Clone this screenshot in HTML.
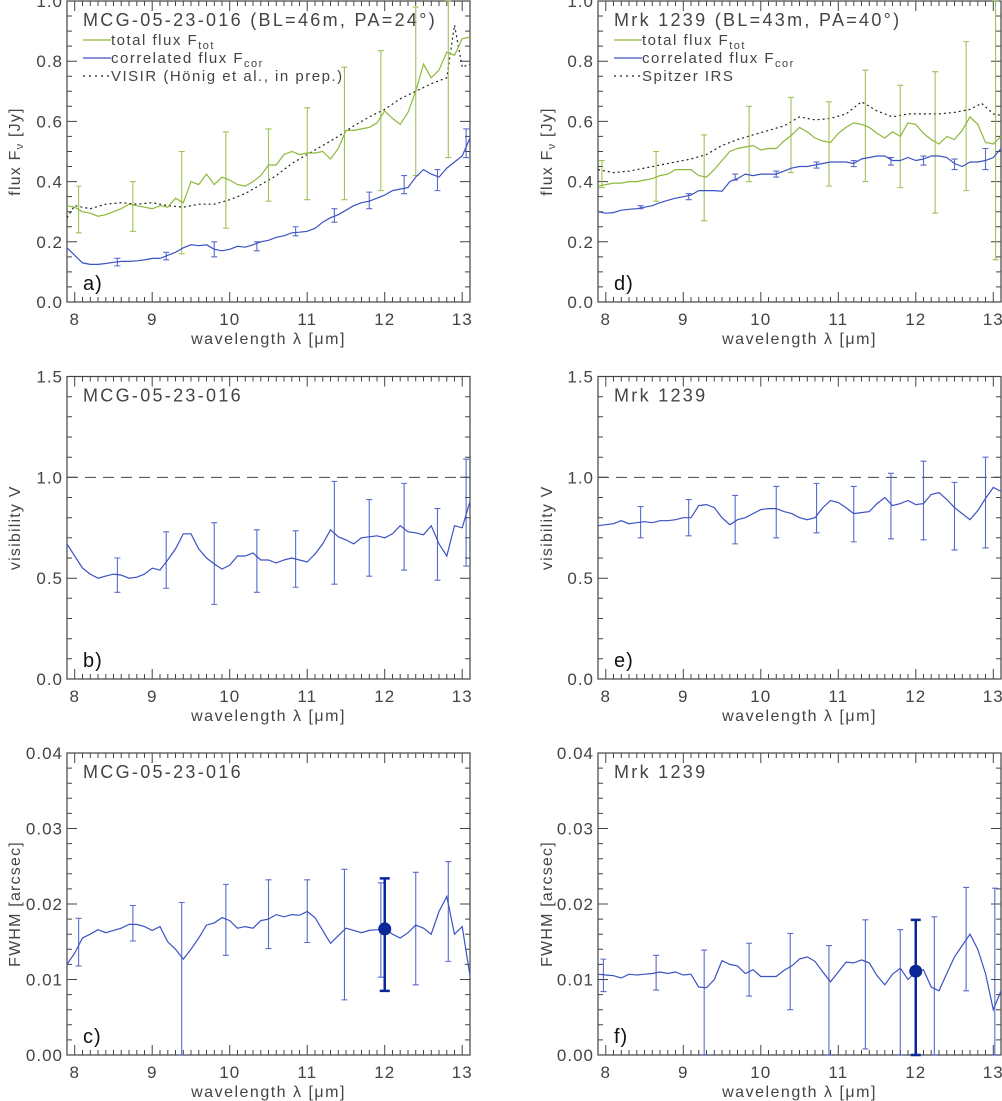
<!DOCTYPE html>
<html><head><meta charset="utf-8"><style>
body{margin:0;background:#fff;}
svg{display:block;font-family:"Liberation Sans",sans-serif;}
</style></head><body>
<svg id="fig" width="1002" height="1101" viewBox="0 0 1002 1101" xmlns="http://www.w3.org/2000/svg"></svg>
<script>
// ---- data (wavelength grid 7.9..13.1, step 0.1) ----
const wave = []; for (let i = 0; i < 53; i++) wave.push(+(7.9 + 0.1 * i).toFixed(2));

const aTot = [0.32,0.315,0.30,0.295,0.285,0.29,0.30,0.31,0.325,0.32,0.315,0.31,0.32,0.315,0.345,0.33,0.40,0.39,0.425,0.39,0.415,0.405,0.39,0.385,0.40,0.42,0.455,0.455,0.49,0.50,0.49,0.495,0.495,0.50,0.475,0.51,0.57,0.57,0.575,0.58,0.595,0.635,0.61,0.59,0.63,0.70,0.79,0.745,0.77,0.83,0.82,0.875,0.88];
const aCor = [0.18,0.155,0.13,0.125,0.125,0.128,0.132,0.135,0.135,0.137,0.14,0.145,0.145,0.155,0.165,0.18,0.19,0.187,0.19,0.175,0.17,0.175,0.185,0.182,0.19,0.20,0.205,0.215,0.22,0.23,0.232,0.235,0.245,0.265,0.28,0.29,0.305,0.32,0.33,0.335,0.345,0.355,0.37,0.375,0.38,0.415,0.44,0.425,0.415,0.445,0.465,0.485,0.545];
const aRefX = [7.9,8.0,8.2,8.4,8.6,8.8,9.0,9.2,9.4,9.6,9.8,10.0,10.2,10.4,10.6,10.8,11.0,11.2,11.4,11.6,11.8,12.0,12.2,12.4,12.6,12.8,12.9,13.0,13.1];
const aRef = [0.28,0.32,0.31,0.325,0.33,0.325,0.33,0.32,0.315,0.325,0.325,0.34,0.36,0.39,0.42,0.46,0.49,0.52,0.55,0.585,0.615,0.64,0.675,0.70,0.725,0.745,0.92,0.78,0.79];
const aTotErrX = [8.05,8.75,9.38,9.95,10.5,11.0,11.48,11.95,12.4,12.82];
const aTotLo = [0.23,0.235,0.16,0.245,0.335,0.34,0.34,0.37,0.42,0.48];
const aTotHi = [0.385,0.40,0.50,0.565,0.575,0.645,0.78,0.835,0.98,1.0];
const aCorErrX = [8.55,9.18,9.8,10.35,10.85,11.35,11.8,12.25,12.68,13.05];
const aCorLo = [0.12,0.14,0.15,0.17,0.22,0.265,0.31,0.36,0.37,0.48];
const aCorHi = [0.145,0.165,0.2,0.2,0.25,0.31,0.365,0.42,0.44,0.575];

const bVis = [0.67,0.61,0.55,0.52,0.50,0.51,0.52,0.515,0.50,0.505,0.52,0.55,0.54,0.59,0.645,0.72,0.72,0.645,0.60,0.57,0.545,0.565,0.61,0.61,0.625,0.59,0.59,0.575,0.59,0.60,0.59,0.58,0.62,0.67,0.74,0.705,0.69,0.67,0.70,0.705,0.71,0.70,0.72,0.76,0.73,0.725,0.715,0.76,0.67,0.61,0.76,0.75,0.88];
const bErrX = [8.55,9.18,9.8,10.35,10.85,11.35,11.8,12.25,12.68,13.05];
const bLo = [0.43,0.45,0.37,0.43,0.455,0.47,0.51,0.54,0.49,0.56];
const bHi = [0.60,0.73,0.775,0.74,0.735,0.98,0.89,0.97,0.845,1.09];

const cFwhm = [0.0120,0.0135,0.0155,0.0160,0.0166,0.0162,0.0165,0.0168,0.0173,0.0173,0.0170,0.0165,0.0170,0.0150,0.0140,0.0127,0.0140,0.0155,0.0172,0.0175,0.0182,0.0178,0.0168,0.0170,0.0168,0.0178,0.0180,0.0186,0.0183,0.0186,0.0185,0.0190,0.0182,0.0165,0.0148,0.0158,0.0168,0.0165,0.0162,0.0165,0.0166,0.0168,0.0160,0.0155,0.0162,0.0172,0.0168,0.0160,0.0190,0.0210,0.0160,0.0170,0.0105];
const cErrX = [8.05,8.75,9.38,9.95,10.5,11.0,11.48,11.95,12.4,12.82];
const cLo = [0.0118,0.0151,0.0,0.0132,0.0141,0.0149,0.0073,0.0103,0.0093,0.0124];
const cHi = [0.0181,0.0198,0.0202,0.0226,0.0232,0.0232,0.0246,0.0228,0.0242,0.0256];
const cBig = [12.0, 0.0167, 0.0085, 0.0234];

const dTot = [0.385,0.39,0.395,0.395,0.40,0.40,0.405,0.41,0.42,0.425,0.44,0.44,0.44,0.42,0.415,0.44,0.47,0.50,0.51,0.515,0.52,0.505,0.51,0.51,0.535,0.555,0.58,0.565,0.545,0.535,0.53,0.56,0.58,0.595,0.59,0.58,0.56,0.545,0.565,0.55,0.595,0.59,0.56,0.54,0.525,0.55,0.54,0.57,0.615,0.59,0.53,0.525,0.55];
const dCor = [0.30,0.295,0.297,0.305,0.308,0.31,0.315,0.32,0.33,0.338,0.345,0.35,0.355,0.37,0.37,0.37,0.368,0.40,0.41,0.425,0.42,0.425,0.425,0.425,0.435,0.445,0.45,0.45,0.455,0.46,0.465,0.465,0.465,0.46,0.475,0.48,0.485,0.485,0.47,0.47,0.48,0.47,0.475,0.485,0.485,0.48,0.46,0.45,0.465,0.465,0.47,0.48,0.51];
const dRefX = [7.9,8.1,8.3,8.5,8.7,8.9,9.1,9.3,9.5,9.7,9.9,10.1,10.3,10.5,10.7,10.9,11.1,11.3,11.5,11.7,11.9,12.1,12.3,12.5,12.7,12.85,13.0,13.1];
const dRef = [0.44,0.43,0.435,0.445,0.455,0.465,0.475,0.49,0.52,0.54,0.555,0.57,0.585,0.615,0.605,0.61,0.625,0.665,0.635,0.615,0.625,0.625,0.625,0.63,0.64,0.66,0.625,0.62];
const dTotErrX = [7.95,8.65,9.27,9.85,10.39,10.88,11.35,11.8,12.25,12.65,13.03];
const dTotLo = [0.38,0.335,0.27,0.40,0.43,0.385,0.40,0.38,0.295,0.37,0.14];
const dTotHi = [0.47,0.50,0.555,0.65,0.68,0.665,0.77,0.72,0.765,0.865,1.0];
const dCorErrX = [8.45,9.07,9.67,10.2,10.72,11.2,11.68,12.1,12.5,12.9];
const dCorLo = [0.31,0.34,0.405,0.415,0.445,0.45,0.455,0.455,0.44,0.44];
const dCorHi = [0.32,0.36,0.425,0.435,0.465,0.47,0.48,0.485,0.475,0.51];

const eVis = [0.76,0.765,0.77,0.785,0.77,0.775,0.78,0.775,0.785,0.785,0.79,0.80,0.80,0.86,0.865,0.85,0.80,0.765,0.79,0.80,0.82,0.84,0.845,0.845,0.83,0.82,0.80,0.79,0.80,0.85,0.885,0.875,0.85,0.82,0.825,0.83,0.87,0.90,0.86,0.87,0.885,0.865,0.87,0.915,0.925,0.89,0.85,0.82,0.79,0.835,0.895,0.95,0.93];
const eErrX = [8.45,9.07,9.67,10.2,10.72,11.2,11.68,12.1,12.5,12.9];
const eLo = [0.70,0.71,0.67,0.70,0.725,0.68,0.695,0.69,0.64,0.65];
const eHi = [0.855,0.89,0.91,0.955,0.97,0.955,1.02,1.08,0.975,1.10];

const fFwhm = [0.0107,0.0106,0.0105,0.0102,0.0107,0.0106,0.0107,0.0108,0.0110,0.0108,0.0110,0.0106,0.0107,0.0090,0.0089,0.0100,0.0125,0.0120,0.0118,0.0108,0.0113,0.0104,0.0104,0.0104,0.0112,0.0118,0.0127,0.0130,0.0124,0.0110,0.0097,0.0110,0.0123,0.0122,0.0126,0.0122,0.0105,0.0093,0.0107,0.0115,0.0100,0.0110,0.0113,0.0090,0.0085,0.0108,0.0130,0.0145,0.0160,0.0140,0.0108,0.0060,0.0085];
const fErrX = [7.97,8.65,9.27,9.85,10.38,10.88,11.35,11.8,12.24,12.65,13.02];
const fLo = [0.0084,0.0086,0,0.0078,0.006,0,0.0008,0,0,0.0085,0];
const fHi = [0.0127,0.0132,0.0139,0.0148,0.0161,0.0145,0.0179,0.0166,0.0183,0.0222,0.0221];
const fBig = [12.0, 0.0111, 0.0, 0.0179];

const xTicks = ["8","9","10","11","12","13"];
const yTicksFlux = ["0.0","0.2","0.4","0.6","0.8","1.0"];
const yTicksVis = ["0.0","0.5","1.0","1.5"];
const yTicksFwhm = ["0.00","0.01","0.02","0.03","0.04"];

// ---- drawing ----
const NS = "http://www.w3.org/2000/svg";
const svg = document.getElementById("fig");
const GREEN = "#8db83c", BLUE = "#3c52c2", DARK = "#0a2797", AX = "#444";
function mk(tag, attrs, parent) {
  const e = document.createElementNS(NS, tag);
  for (const k in attrs) e.setAttribute(k, attrs[k]);
  (parent || svg).appendChild(e);
  return e;
}
function panel(opt) {
  const g = mk("g", {});
  
  
  const x0 = opt.x0, x1 = opt.x0 + 403, y0 = opt.y0, y1 = opt.y1;
  const X = v => x0 + (v - 7.9) / 5.2 * (x1 - x0);
  const Y = v => y1 - (v - opt.ymin) / (opt.ymax - opt.ymin) * (y1 - y0);
  // ticks
  const tk = mk("path", {stroke: AX, "stroke-width": 1, fill: "none"}, g);
  let d = "";
  for (let i = 0; i <= 52; i++) {
    const v = 7.9 + i * 0.1, px = X(v).toFixed(1);
    const major = Math.abs(v - Math.round(v)) < 1e-6;
    const L = major ? 10 : 5;
    d += `M${px},${y1}v${-L}M${px},${y0}v${L}`;
  }
  const nMinor = Math.round((opt.ymax - opt.ymin) / opt.ystepMinor);
  for (let i = 0; i <= nMinor; i++) {
    const v = opt.ymin + i * opt.ystepMinor, py = Y(v).toFixed(1);
    const r = v / opt.ystepMajor;
    const major = Math.abs(r - Math.round(r)) < 1e-6;
    const L = major ? 10 : 5;
    d += `M${x0},${py}h${L}M${x1},${py}h${-L}`;
  }
  tk.setAttribute("d", d);
  
  
  const fr = mk("rect", {x: x0, y: y0, width: x1 - x0, height: y1 - y0, fill: "none", stroke: AX, "stroke-width": 1.2}, g);
  
  
  // tick labels
  xTicks.forEach(t => {
    const e = mk("text", {x: X(+t), y: y1 + 23, "text-anchor": "middle", "font-size": 17, fill: AX, "letter-spacing": 1}, g);
    e.textContent = t;
    
    
  });
  opt.yt.forEach(t => {
    const e = mk("text", {x: x0 - 4, y: Y(+t) + 6, "text-anchor": "end", "font-size": 17, fill: AX, "letter-spacing": 1}, g);
    e.textContent = t;
    
    
  });
  const xt = mk("text", {x: (x0 + x1) / 2, y: y1 + 42, "text-anchor": "middle", "font-size": 16, fill: AX, "letter-spacing": 1.5}, g);
  xt.textContent = "wavelength λ [μm]";
  
  
  const yx = opt.ytx, yy = (y0 + y1) / 2;
  const yt = mk("text", {x: yx, y: yy, "text-anchor": "middle", "font-size": 16, fill: AX, "letter-spacing": 1.2, transform: `rotate(-90 ${yx} ${yy})`}, g);
  yt.innerHTML = opt.ytitle;
  
  
  // title & panel label
  const ti = mk("text", {x: x0 + 16, y: y0 + 25, "font-size": 18, fill: AX, "letter-spacing": 2.3}, g);
  ti.textContent = opt.title;
  
  
  const pl = mk("text", {x: x0 + 16, y: y1 - 12, "font-size": 20, fill: "#111", "letter-spacing": 1}, g);
  pl.textContent = opt.label;
  
  
  const ctx = {g, X, Y, x0, x1, y0, y1};
  opt.draw(ctx);
}
function line(ctx, xs, ys, color, name, extra) {
  const pts = xs.map((x, i) => X2(ctx, x) + "," + ctx.Y(ys[i]).toFixed(1)).join(" ");
  const e = mk("polyline", Object.assign({points: pts, fill: "none", stroke: color, "stroke-width": 1.2}, extra || {}), ctx.g);
  
  
}
function X2(ctx, x) { return Math.min(ctx.x1, Math.max(ctx.x0, ctx.X(x))).toFixed(1); }
function errs(ctx, xs, lo, hi, color, name, w) {
  xs.forEach((x, i) => {
    const px = ctx.X(x), a = ctx.Y(Math.max(lo[i], ctx.ymin0)), b = ctx.Y(Math.min(hi[i], ctx.ymax0));
    const e = mk("path", {d: `M${px},${a}V${b}M${px - 3},${a}h6M${px - 3},${b}h6`, stroke: color, "stroke-width": w || 1.1, fill: "none", opacity: 0.85}, ctx.g);
    
    
  });
}
function legend(ctx, items) {
  items.forEach((it, i) => {
    const y = ctx.y0 + 44 + i * 18;
    const l = mk("line", {x1: ctx.x0 + 16, x2: ctx.x0 + 44, y1: y - 5, y2: y - 5, stroke: it.c, "stroke-width": 1.3, "stroke-dasharray": it.dash || ""}, ctx.g);
    
    
    const t = mk("text", {x: ctx.x0 + 44, y: y, "font-size": 15, fill: AX, "letter-spacing": 1.5}, ctx.g);
    t.innerHTML = it.t;
    
    
  });
}
function big(ctx, p) {
  const px = ctx.X(p[0]);
  const e = mk("path", {d: `M${px},${ctx.Y(p[2])}V${ctx.Y(p[3])}M${px - 5},${ctx.Y(p[2])}h10M${px - 5},${ctx.Y(p[3])}h10`, stroke: DARK, "stroke-width": 2.5, fill: "none"}, ctx.g);
  
  
  const c = mk("circle", {cx: px, cy: ctx.Y(p[1]), r: 6.5, fill: DARK}, ctx.g);
  
  
}
function dashed1(ctx) {
  const e = mk("line", {x1: ctx.x0, x2: ctx.x1, y1: ctx.Y(1), y2: ctx.Y(1), stroke: AX, "stroke-width": 1, "stroke-dasharray": "11,7"}, ctx.g);
  
  
}
const fluxT = 'flux F<tspan font-size="11" dy="3">ν</tspan><tspan dy="-3"> [Jy]</tspan>';
const legA = s => [
  {t: 'total flux F<tspan font-size="11" dy="4">tot</tspan>', c: GREEN},
  {t: 'correlated flux F<tspan font-size="11" dy="4">cor</tspan>', c: BLUE},
  {t: s, c: "#222", dash: "2,4"}];
const L = 67, R = 598;
const rows = [[1, 302], [376.5, 679], [753, 1055]];
function cfg(o) { return o; }
[
 {name: "panel-a", x0: L, y0: rows[0][0], y1: rows[0][1], ymin: 0, ymax: 1, ystepMajor: 0.2, ystepMinor: 0.05, yt: yTicksFlux, ytx: 20, ytitle: fluxT, title: "MCG-05-23-016 (BL=46m, PA=24°)", label: "a)",
  draw: c => { c.ymin0 = 0; c.ymax0 = 1; legend(c, legA("VISIR (Hönig et al., in prep.)"));
    line(c, aRefX, aRef, "#222", "visir-spectrum", {"stroke-dasharray": "2,3"});
    errs(c, aTotErrX, aTotLo, aTotHi, GREEN, "total-flux-errorbar");
    line(c, wave, aTot, GREEN, "total-flux-line");
    errs(c, aCorErrX, aCorLo, aCorHi, BLUE, "correlated-flux-errorbar");
    line(c, wave, aCor, BLUE, "correlated-flux-line"); }},
 {name: "panel-d", x0: R, y0: rows[0][0], y1: rows[0][1], ymin: 0, ymax: 1, ystepMajor: 0.2, ystepMinor: 0.05, yt: yTicksFlux, ytx: 552, ytitle: fluxT, title: "Mrk 1239 (BL=43m, PA=40°)", label: "d)",
  draw: c => { c.ymin0 = 0; c.ymax0 = 1; legend(c, legA("Spitzer IRS"));
    line(c, dRefX, dRef, "#222", "spitzer-spectrum", {"stroke-dasharray": "2,3"});
    errs(c, dTotErrX, dTotLo, dTotHi, GREEN, "total-flux-errorbar");
    line(c, wave, dTot, GREEN, "total-flux-line");
    errs(c, dCorErrX, dCorLo, dCorHi, BLUE, "correlated-flux-errorbar");
    line(c, wave, dCor, BLUE, "correlated-flux-line"); }},
 {name: "panel-b", x0: L, y0: rows[1][0], y1: rows[1][1], ymin: 0, ymax: 1.5, ystepMajor: 0.5, ystepMinor: 0.1, yt: yTicksVis, ytx: 20, ytitle: "visibility V", title: "MCG-05-23-016", label: "b)",
  draw: c => { c.ymin0 = 0; c.ymax0 = 1.5; dashed1(c); errs(c, bErrX, bLo, bHi, BLUE, "visibility-errorbar"); line(c, wave, bVis, BLUE, "visibility-line"); }},
 {name: "panel-e", x0: R, y0: rows[1][0], y1: rows[1][1], ymin: 0, ymax: 1.5, ystepMajor: 0.5, ystepMinor: 0.1, yt: yTicksVis, ytx: 552, ytitle: "visibility V", title: "Mrk 1239", label: "e)",
  draw: c => { c.ymin0 = 0; c.ymax0 = 1.5; dashed1(c); errs(c, eErrX, eLo, eHi, BLUE, "visibility-errorbar"); line(c, wave, eVis, BLUE, "visibility-line"); }},
 {name: "panel-c", x0: L, y0: rows[2][0], y1: rows[2][1], ymin: 0, ymax: 0.04, ystepMajor: 0.01, ystepMinor: 0.002, yt: yTicksFwhm, ytx: 20, ytitle: "FWHM [arcsec]", title: "MCG-05-23-016", label: "c)",
  draw: c => { c.ymin0 = 0; c.ymax0 = 0.04; errs(c, cErrX, cLo, cHi, BLUE, "fwhm-errorbar"); line(c, wave, cFwhm, BLUE, "fwhm-line"); big(c, cBig); }},
 {name: "panel-f", x0: R, y0: rows[2][0], y1: rows[2][1], ymin: 0, ymax: 0.04, ystepMajor: 0.01, ystepMinor: 0.002, yt: yTicksFwhm, ytx: 552, ytitle: "FWHM [arcsec]", title: "Mrk 1239", label: "f)",
  draw: c => { c.ymin0 = 0; c.ymax0 = 0.04; errs(c, fErrX, fLo, fHi, BLUE, "fwhm-errorbar"); line(c, wave, fFwhm, BLUE, "fwhm-line"); big(c, fBig); }}
].forEach(panel);
</script>
</body></html>
